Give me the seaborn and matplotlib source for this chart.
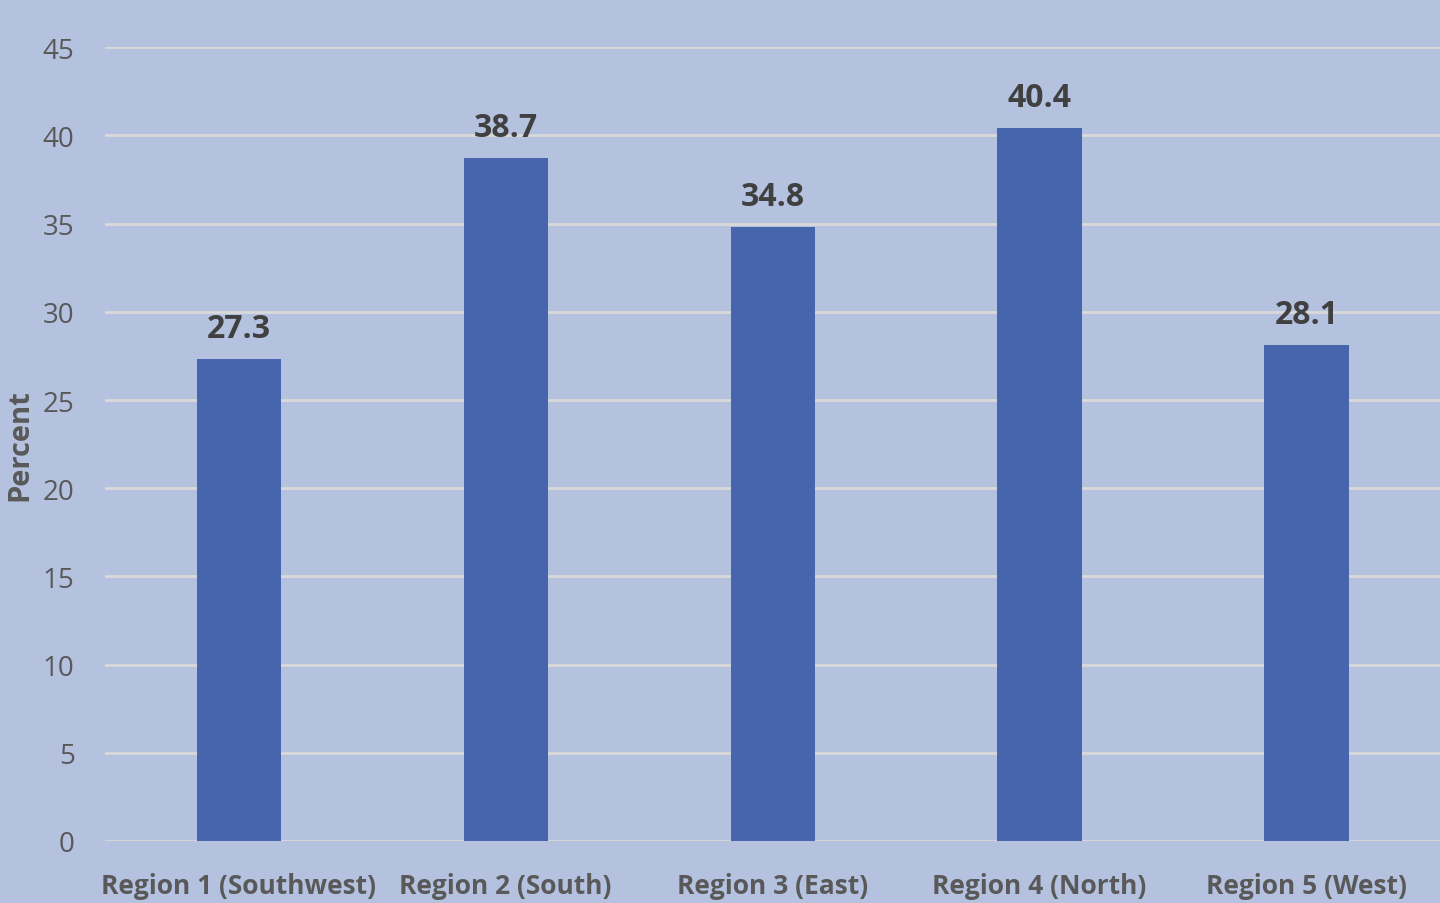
import seaborn as sns
import matplotlib.pyplot as plt
import pandas as pd

# data
regions = ["Region 1 (Southwest)", "Region 2 (South)", "Region 3 (East)",
           "Region 4 (North)", "Region 5 (West)"]
percent = [27.3, 38.7, 34.8, 40.4, 28.1]
y_ticks = [0, 5, 10, 15, 20, 25, 30, 35, 40, 45]

bg = "#B4C2E0"
bar_color = "#4765AD"

sns.set_theme(style="whitegrid")
plt.rcParams["font.family"] = ["Open Sans", "DejaVu Sans"]

df = pd.DataFrame({"region": regions, "percent": percent})

fig = plt.figure(figsize=(14.4, 9.04), dpi=100, facecolor=bg)
ax = fig.add_axes([0.073, 0.0686, 0.927, 0.878])
ax.set_facecolor(bg)

sns.barplot(data=df, x="region", y="percent", color=bar_color, width=0.315,
            saturation=1, linewidth=0, ax=ax)

ax.set_ylim(0, 45)
ax.set_xlim(-0.5, 4.5)
ax.set_yticks(y_ticks)
ax.grid(axis="y", color="#D9D9D9", linewidth=2)
ax.grid(axis="x", visible=False)
ax.set_axisbelow(True)
for s in ax.spines.values():
    s.set_visible(False)

ax.tick_params(axis="y", labelsize=20, colors="#595959", length=0, pad=22)
ax.tick_params(axis="x", labelsize=19, colors="#595959", length=0, pad=22)
for lbl in ax.get_xticklabels():
    lbl.set_fontweight("bold")

ax.set_xlabel("")
ax.set_ylabel("Percent", fontsize=21, fontweight="bold", color="#595959", labelpad=6)

for i, v in enumerate(percent):
    ax.text(i, v + 0.8, f"{v}", ha="center", va="bottom", fontsize=23,
            fontweight="bold", color="#404040")

fig.savefig("out.png", dpi=100, facecolor=bg)
